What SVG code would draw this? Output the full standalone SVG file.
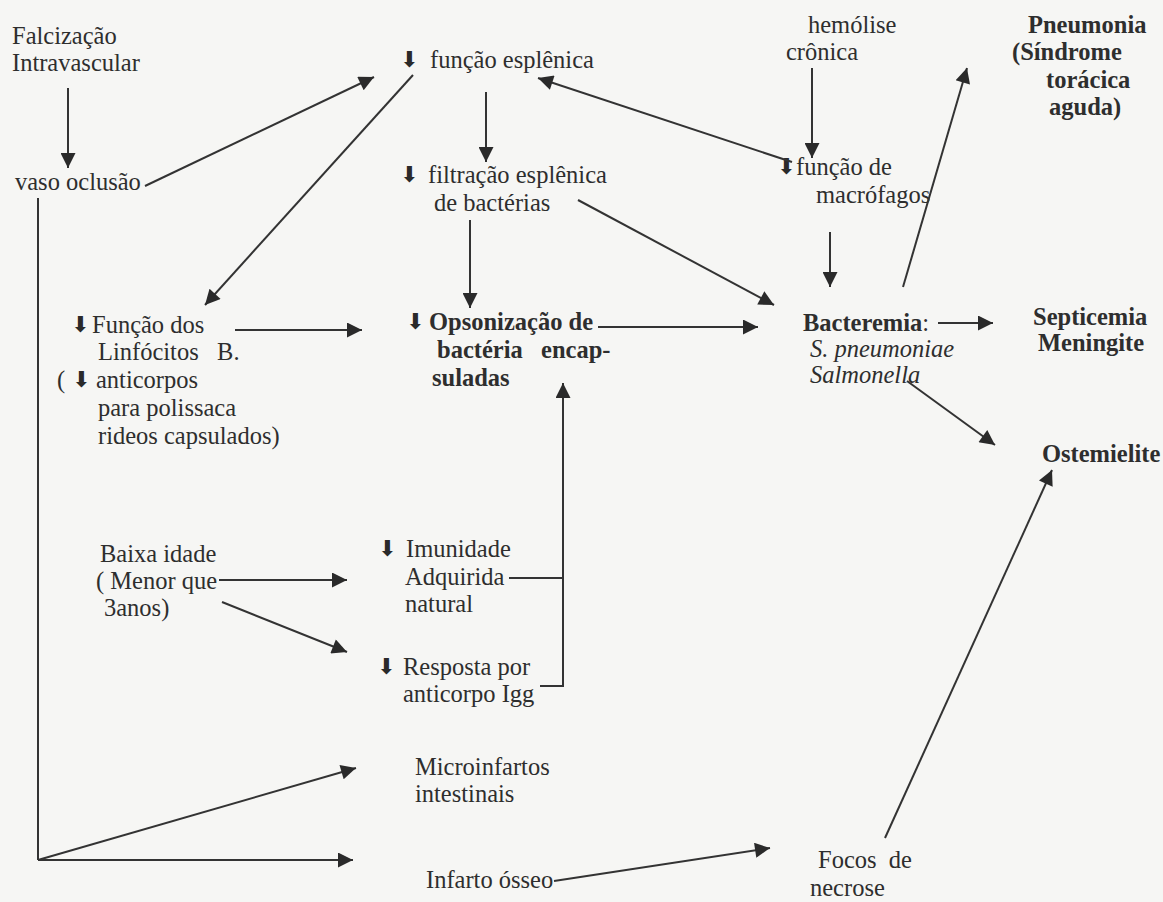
<svg xmlns="http://www.w3.org/2000/svg" width="1163" height="902" viewBox="0 0 1163 902">
<defs>
<style>
text{font-family:'Liberation Serif','Times New Roman','DejaVu Serif',serif;font-size:24.5px;fill:#2e2e2e}
.b{font-weight:bold}
.i{font-style:italic}
.dn{font-family:'DejaVu Sans',sans-serif;font-size:22px;fill:#2a2a2a}
.c line,.c polyline{stroke:#333;stroke-width:2;fill:none}
.a{marker-end:url(#ah)}
</style>
<marker id="ah" viewBox="0 0 10 10" refX="10" refY="5" markerWidth="20" markerHeight="15" markerUnits="userSpaceOnUse" orient="auto-start-reverse"><path d="M0,0 L10,5 L0,10 z" fill="#2a2a2a"/></marker>
</defs>
<rect width="1163" height="902" fill="#f6f6f4"/>

<g id="falcizacao"><text x="12" y="44">Falcização</text><text x="12" y="71">Intravascular</text></g>
<g id="vaso"><text x="15" y="190">vaso oclusão</text></g>
<g id="funcao-esplenica"><text class="dn" x="400" y="67">⬇</text><text x="430" y="68">função esplênica</text></g>
<g id="filtracao"><text class="dn" x="400" y="182">⬇</text><text x="428" y="183">filtração esplênica</text><text x="434" y="211">de bactérias</text></g>
<g id="hemolise"><text x="808" y="33">hemólise</text><text x="786" y="60">crônica</text></g>
<g id="macrofagos"><text class="dn" x="777" y="174">⬇</text><text x="796" y="175">função de</text><text x="816" y="203">macrófagos</text></g>
<g id="pneumonia"><text class="b" x="1028" y="33">Pneumonia</text><text class="b" x="1012" y="60">(Síndrome</text><text class="b" x="1046" y="88">torácica</text><text class="b" x="1049" y="115">aguda)</text></g>
<g id="linfocitos"><text class="dn" x="71" y="332">⬇</text><text x="92" y="333">Função dos</text><text x="98" y="360" xml:space="preserve">Linfócitos   B.</text><text x="57" y="388">(</text><text class="dn" x="72" y="387">⬇</text><text x="96" y="388">anticorpos</text><text x="98" y="416">para polissaca</text><text x="98" y="444">rideos capsulados)</text></g>
<g id="opsonizacao"><text class="dn" x="406" y="329">⬇</text><text class="b" x="429" y="330">Opsonização de</text><text class="b" x="437" y="358" xml:space="preserve">bactéria   encap-</text><text class="b" x="432" y="386">suladas</text></g>
<g id="bacteremia"><text x="803" y="331"><tspan class="b">Bacteremia</tspan>:</text><text class="i" x="810" y="357">S. pneumoniae</text><text class="i" x="810" y="383">Salmonella</text></g>
<g id="septicemia"><text class="b" x="1033" y="325">Septicemia</text><text class="b" x="1038" y="351">Meningite</text></g>
<g id="ostemielite"><text class="b" x="1042" y="462">Ostemielite</text></g>
<g id="baixa-idade"><text x="100" y="562">Baixa idade</text><text x="96" y="589">( Menor que</text><text x="104" y="616">3anos)</text></g>
<g id="imunidade"><text class="dn" x="378" y="556">⬇</text><text x="406" y="557">Imunidade</text><text x="405" y="585">Adquirida</text><text x="405" y="612">natural</text></g>
<g id="resposta"><text class="dn" x="377" y="674">⬇</text><text x="403" y="675">Resposta por</text><text x="403" y="702">anticorpo Igg</text></g>
<g id="microinfartos"><text x="415" y="775">Microinfartos</text><text x="415" y="802">intestinais</text></g>
<g id="infarto"><text x="426" y="888">Infarto ósseo</text></g>
<g id="focos"><text x="818" y="868" xml:space="preserve">Focos  de</text><text x="810" y="896">necrose</text></g>

<g id="connectors" class="c">
<line class="a" x1="68" y1="88" x2="68" y2="168"/>
<line class="a" x1="145" y1="186" x2="374" y2="77"/>
<line class="a" x1="413" y1="75" x2="205" y2="305"/>
<line class="a" x1="486" y1="92" x2="486" y2="162"/>
<line class="a" x1="470" y1="220" x2="470" y2="308"/>
<line class="a" x1="578" y1="200" x2="774" y2="305"/>
<line class="a" x1="792" y1="162" x2="538" y2="78"/>
<line class="a" x1="812" y1="68" x2="812" y2="158"/>
<line class="a" x1="830" y1="232" x2="830" y2="287"/>
<line class="a" x1="903" y1="287" x2="967" y2="68"/>
<line class="a" x1="235" y1="330" x2="362" y2="330"/>
<line class="a" x1="598" y1="327" x2="758" y2="327"/>
<line class="a" x1="938" y1="323" x2="993" y2="323"/>
<line class="a" x1="907" y1="381" x2="995" y2="445"/>
<line class="a" x1="219" y1="580" x2="347" y2="580"/>
<line class="a" x1="222" y1="602" x2="347" y2="652"/>
<line x1="509" y1="578" x2="563" y2="578"/>
<polyline class="a" points="540,686 563,686 563,383"/>
<line x1="38" y1="198" x2="38" y2="860"/>
<line class="a" x1="38" y1="860" x2="356" y2="768"/>
<line class="a" x1="38" y1="860" x2="353" y2="860"/>
<line class="a" x1="554" y1="881" x2="770" y2="848"/>
<line class="a" x1="885" y1="838" x2="1052" y2="470"/>
</g>
</svg>
